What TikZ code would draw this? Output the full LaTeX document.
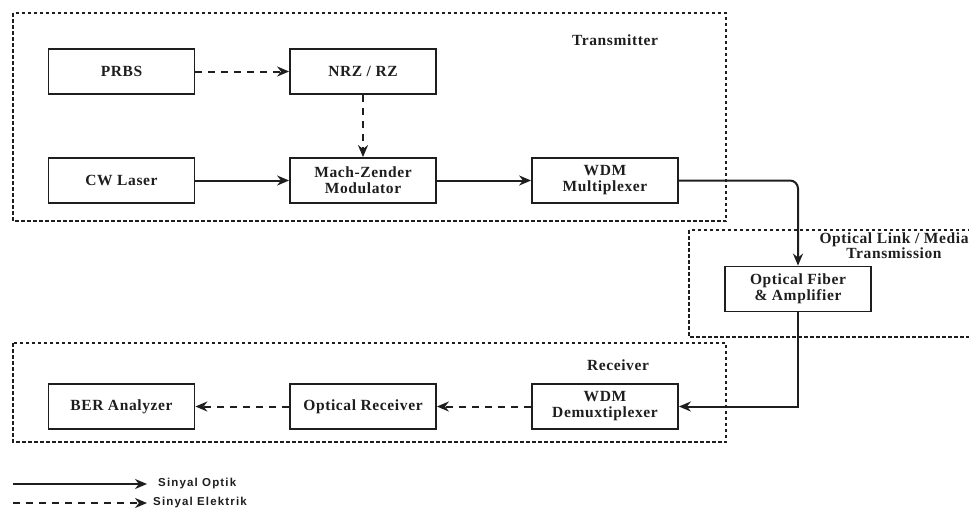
\documentclass[tikz,border=0pt]{standalone}
\usepackage{fontspec}
\setmainfont{Liberation Serif}[LetterSpace=4]
\newfontfamily\legendfont{Liberation Sans}[LetterSpace=10]
\usetikzlibrary{arrows.meta}
\definecolor{ink}{HTML}{1E1E1E}
\tikzset{
  block/.style={draw=ink, line width=1.8pt, fill=white, minimum width=146pt,
    minimum height=45pt, inner sep=0pt, align=center, text=ink,
    font=\fontsize{15.5}{16}\selectfont\bfseries},
  group/.style={draw=ink, line width=1.2pt, dash pattern=on 3.5pt off 2.5pt},
  grouplabel/.style={text=ink, align=center, font=\fontsize{15.5}{15}\selectfont\bfseries},
  optic/.style={draw=ink, line width=2pt, -{Stealth[length=12pt,width=10pt]}},
  elec/.style={optic, dash pattern=on 7pt off 6pt},
  legendtext/.style={anchor=west, text=ink, inner sep=0pt,
    font=\legendfont\fontsize{11.5}{12}\selectfont\bfseries}
}
\begin{document}
\begin{tikzpicture}[x=1pt, y=-1pt]
\useasboundingbox (0,0) rectangle (969,517);

% signal-chain groups
\draw[group] (13,13) rectangle (726,221);
\draw[group] (689,230) rectangle (990,337);
\draw[group] (13,343) rectangle (726,442);
\node[grouplabel] (txlabel) at (615,40) {Transmitter};
\node[grouplabel] (linklabel) at (894,246) {Optical Link / Media\\Transmission};
\node[grouplabel] (rxlabel) at (618,365) {Receiver};

% blocks
\node[block] (prbs)  at (121.5,71.5)  {PRBS};
\node[block] (nrz)   at (363,71.5)    {NRZ / RZ};
\node[block] (cw)    at (121.5,180.5) {CW Laser};
\node[block] (mzm)   at (363,180.5)   {Mach-Zender\\Modulator};
\node[block] (mux)   at (605,180.5)   {WDM\\Multiplexer};
\node[block] (fiber) at (798,289)     {Optical Fiber\\\& Amplifier};
\node[block] (demux) at (605,406.5)   {WDM\\Demuxtiplexer};
\node[block] (orx)   at (363,406.5)   {Optical Receiver};
\node[block] (ber)   at (121.5,406.5) {BER Analyzer};

% connectors
\draw[elec] (prbs) -- (nrz);
\draw[elec] (nrz) -- (mzm);
\draw[optic] (cw) -- (mzm);
\draw[optic] (mzm) -- (mux);
\draw[optic, rounded corners=8pt] (mux.east) -| (fiber.north);
\draw[optic] (fiber.south) |- (demux.east);
\draw[elec] (demux) -- (orx);
\draw[elec] (orx) -- (ber);

% legend
\coordinate (la1) at (13,484);
\coordinate (lb1) at (147,484);
\coordinate (la2) at (13,503);
\coordinate (lb2) at (147,503);
\draw[optic] (la1) -- (lb1);
\draw[elec] (la2) -- (lb2);
\node[legendtext] (optik) at (158,484) {Sinyal Optik};
\node[legendtext] (elektrik) at (153,503) {Sinyal Elektrik};
\end{tikzpicture}
\end{document}
